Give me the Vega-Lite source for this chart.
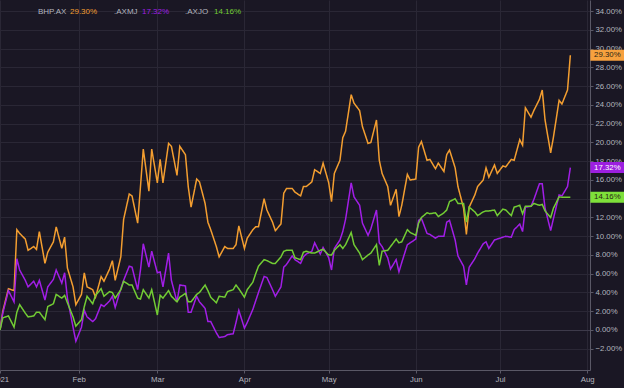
{
  "$schema": "https://vega.github.io/schema/vega-lite/v6.json",
  "width": 590,
  "height": 370,
  "autosize": {"type": "none"},
  "padding": {"left": 0, "top": 0, "right": 34, "bottom": 18},
  "background": "#1a1724",
  "config": {
    "view": {"stroke": null},
    "font": "Liberation Sans",
    "axis": {
      "gridWidth": 1,
      "domainColor": "#5a5866",
      "tickColor": "#5a5866",
      "tickSize": 3,
      "labelColor": "#b2b5be",
      "labelFontSize": 7.8,
      "labelOverlap": false,
      "title": null
    },
    "legend": {
      "labelFontSize": 8,
      "symbolOpacity": 0,
      "symbolSize": 0,
      "symbolStrokeWidth": 0,
      "labelOffset": 0,
      "padding": 0,
      "title": null
    }
  },
  "data": {"name": "series"},
  "transform": [
    {"fold": ["BHP", "AXMJ", "AXJO"], "as": ["series", "pct"]},
    {"calculate": "datum.series == 'BHP' ? 'BHP.AX' : '.' + datum.series", "as": "name"}
  ],
  "encoding": {
    "x": {
      "field": "d",
      "type": "temporal",
      "scale": {"type": "utc", "domain": [{"year": 2021, "month": 1, "date": 4, "utc": true}, {"year": 2021, "month": 8, "date": 2, "utc": true}], "nice": false},
      "axis": {
        "orient": "bottom",
        "grid": true,
        "gridColor": "#2a2735",
        "values": [
          {"year": 2021, "month": 1, "date": 4, "utc": true},
          {"year": 2021, "month": 2, "date": 1, "utc": true},
          {"year": 2021, "month": 3, "date": 1, "utc": true},
          {"year": 2021, "month": 4, "date": 1, "utc": true},
          {"year": 2021, "month": 5, "date": 1, "utc": true},
          {"year": 2021, "month": 6, "date": 1, "utc": true},
          {"year": 2021, "month": 7, "date": 1, "utc": true},
          {"year": 2021, "month": 8, "date": 1, "utc": true}
        ],
        "labelExpr": "utcmonth(datum.value) == 0 ? '2021' : utcFormat(datum.value, '%b')",
        "labelPadding": 2,
        "labelFlush": false,
        "labelOverlap": false
      }
    },
    "y": {
      "field": "pct",
      "type": "quantitative",
      "scale": {"domain": [-4.267, 35.2], "nice": false, "zero": false},
      "axis": {
        "orient": "right",
        "grid": true,
        "gridColor": {"condition": {"test": "datum.value == 0", "value": "#3d3a4a"}, "value": "#2a2735"},
        "values": [-2, 0, 2, 4, 6, 8, 10, 12, 14, 16, 18, 20, 22, 24, 26, 28, 30, 32, 34],
        "labelExpr": "format(datum.value, '.2f') + '%'",
        "labelPadding": 2,
        "labelFlush": false,
        "labelOverlap": false
      }
    }
  },
  "layer": [
    {
      "mark": {"type": "line", "strokeWidth": 1.5, "interpolate": "linear"},
      "encoding": {
        "stroke": {
          "field": "series",
          "type": "nominal",
          "scale": {"domain": ["BHP", "AXMJ", "AXJO"], "range": ["#f39e30", "#a11ee6", "#72cc34"]},
          "legend": {
            "orient": "none",
            "legendX": 62,
            "legendY": 8,
            "direction": "horizontal",
            "columnPadding": 36,
            "labelExpr": "datum.label == 'BHP' ? '29.30%' : datum.label == 'AXMJ' ? '17.32%' : '14.16%'",
            "encode": {"labels": {"update": {"fill": {"scale": "stroke", "field": "value"}}}}
          }
        },
        "strokeDash": {
          "field": "name",
          "type": "nominal",
          "scale": {"domain": ["BHP.AX", ".AXMJ", ".AXJO"], "range": [[1, 0], [1, 0], [1, 0]]},
          "legend": {
            "orient": "none",
            "legendX": 30,
            "legendY": 8,
            "direction": "horizontal",
            "columnPadding": 39,
            "labelColor": "#b2b5be"
          }
        }
      }
    },
    {
      "transform": [{"filter": "+toDate(datum.d) == +toDate('2021-07-26')"}],
      "mark": {"type": "point", "filled": true, "opacity": 1, "strokeWidth": 0, "size": 1156, "xOffset": 37,
               "shape": "M-1,-0.3235L1,-0.3235L1,0.3235L-1,0.3235Z"},
      "encoding": {
        "fill": {
          "field": "series",
          "type": "nominal",
          "scale": {"domain": ["BHP", "AXMJ", "AXJO"], "range": ["#f7a13e", "#9c1fe0", "#7ee03a"]},
          "legend": null
        }
      }
    },
    {
      "transform": [
        {"filter": "+toDate(datum.d) == +toDate('2021-07-26')"},
        {"calculate": "format(datum.pct, '.2f') + '%'", "as": "label"}
      ],
      "mark": {"type": "text", "dx": 37, "fontSize": 7.8, "align": "center", "baseline": "middle"},
      "encoding": {
        "text": {"field": "label"},
        "color": {"condition": {"test": "datum.series == 'AXMJ'", "value": "#ffffff"}, "value": "#2a1f14"}
      }
    }
  ],
  "datasets": {
    "series": [
      {"d": "2021-01-04", "BHP": 0, "AXMJ": 0, "AXJO": 0},
      {"d": "2021-01-05", "BHP": 2.0, "AXMJ": 1.8, "AXJO": 1.3},
      {"d": "2021-01-07", "BHP": 4.4, "AXMJ": 4.2, "AXJO": 1.5},
      {"d": "2021-01-09", "BHP": 4.2, "AXMJ": 3.0, "AXJO": 0.3},
      {"d": "2021-01-10", "BHP": 10.7, "AXMJ": 7.6, "AXJO": 1.9},
      {"d": "2021-01-11", "BHP": 10.3, "AXMJ": 6.4, "AXJO": 2.7},
      {"d": "2021-01-13", "BHP": 9.7, "AXMJ": 5.3, "AXJO": 1.8},
      {"d": "2021-01-14", "BHP": 8.5, "AXMJ": 4.6, "AXJO": 1.4},
      {"d": "2021-01-16", "BHP": 8.9, "AXMJ": 5.2, "AXJO": 1.5},
      {"d": "2021-01-17", "BHP": 8.6, "AXMJ": 4.6, "AXJO": 1.9},
      {"d": "2021-01-18", "BHP": 10.5, "AXMJ": 5.3, "AXJO": 1.9},
      {"d": "2021-01-20", "BHP": 7.1, "AXMJ": 3.2, "AXJO": 1.1},
      {"d": "2021-01-21", "BHP": 8.3, "AXMJ": 4.6, "AXJO": 2.5},
      {"d": "2021-01-23", "BHP": 9.4, "AXMJ": 5.4, "AXJO": 2.8},
      {"d": "2021-01-24", "BHP": 11.0, "AXMJ": 6.4, "AXJO": 3.8},
      {"d": "2021-01-26", "BHP": 8.7, "AXMJ": 5.0, "AXJO": 3.4},
      {"d": "2021-01-27", "BHP": 9.9, "AXMJ": 6.1, "AXJO": 3.7},
      {"d": "2021-01-28", "BHP": 6.6, "AXMJ": 3.4, "AXJO": 2.9},
      {"d": "2021-01-30", "BHP": 4.6, "AXMJ": 0.3, "AXJO": 1.4},
      {"d": "2021-01-31", "BHP": 2.7, "AXMJ": -1.2, "AXJO": 0.4},
      {"d": "2021-02-02", "BHP": 3.8, "AXMJ": 0.3, "AXJO": 1.1},
      {"d": "2021-02-03", "BHP": 6.1, "AXMJ": 2.1, "AXJO": 2.5},
      {"d": "2021-02-04", "BHP": 4.6, "AXMJ": 1.4, "AXJO": 3.6},
      {"d": "2021-02-06", "BHP": 4.3, "AXMJ": 0.9, "AXJO": 2.8},
      {"d": "2021-02-07", "BHP": 3.5, "AXMJ": 1.2, "AXJO": 3.7},
      {"d": "2021-02-09", "BHP": 5.7, "AXMJ": 2.7, "AXJO": 4.4},
      {"d": "2021-02-10", "BHP": 5.2, "AXMJ": 2.5, "AXJO": 3.6},
      {"d": "2021-02-12", "BHP": 6.5, "AXMJ": 3.1, "AXJO": 4.1},
      {"d": "2021-02-13", "BHP": 7.4, "AXMJ": 3.6, "AXJO": 4.0},
      {"d": "2021-02-14", "BHP": 5.3, "AXMJ": 2.4, "AXJO": 3.4},
      {"d": "2021-02-16", "BHP": 7.8, "AXMJ": 4.4, "AXJO": 4.3},
      {"d": "2021-02-17", "BHP": 11.8, "AXMJ": 5.3, "AXJO": 5.2},
      {"d": "2021-02-19", "BHP": 14.5, "AXMJ": 6.8, "AXJO": 4.8},
      {"d": "2021-02-20", "BHP": 14.3, "AXMJ": 6.7, "AXJO": 4.8},
      {"d": "2021-02-22", "BHP": 11.4, "AXMJ": 4.3, "AXJO": 3.4},
      {"d": "2021-02-23", "BHP": 15.3, "AXMJ": 6.4, "AXJO": 3.3},
      {"d": "2021-02-24", "BHP": 19.3, "AXMJ": 9.2, "AXJO": 4.3},
      {"d": "2021-02-26", "BHP": 14.8, "AXMJ": 6.7, "AXJO": 3.4},
      {"d": "2021-02-27", "BHP": 19.3, "AXMJ": 8.4, "AXJO": 4.3},
      {"d": "2021-03-01", "BHP": 15.7, "AXMJ": 6.1, "AXJO": 1.6},
      {"d": "2021-03-02", "BHP": 18.2, "AXMJ": 6.2, "AXJO": 3.7},
      {"d": "2021-03-03", "BHP": 15.7, "AXMJ": 4.6, "AXJO": 3.4},
      {"d": "2021-03-05", "BHP": 19.9, "AXMJ": 8.2, "AXJO": 4.2},
      {"d": "2021-03-06", "BHP": 19.6, "AXMJ": 5.3, "AXJO": 3.6},
      {"d": "2021-03-08", "BHP": 16.5, "AXMJ": 3.0, "AXJO": 3.0},
      {"d": "2021-03-09", "BHP": 19.6, "AXMJ": 4.8, "AXJO": 3.5},
      {"d": "2021-03-11", "BHP": 18.7, "AXMJ": 4.7, "AXJO": 3.9},
      {"d": "2021-03-12", "BHP": 15.3, "AXMJ": 1.9, "AXJO": 3.0},
      {"d": "2021-03-13", "BHP": 13.1, "AXMJ": 1.9, "AXJO": 3.0},
      {"d": "2021-03-15", "BHP": 16.1, "AXMJ": 3.6, "AXJO": 3.8},
      {"d": "2021-03-16", "BHP": 15.8, "AXMJ": 3.0, "AXJO": 4.0},
      {"d": "2021-03-18", "BHP": 13.5, "AXMJ": 2.3, "AXJO": 4.8},
      {"d": "2021-03-19", "BHP": 11.5, "AXMJ": 0.9, "AXJO": 4.2},
      {"d": "2021-03-20", "BHP": 10.7, "AXMJ": 0.9, "AXJO": 3.5},
      {"d": "2021-03-22", "BHP": 8.9, "AXMJ": -0.3, "AXJO": 2.9},
      {"d": "2021-03-23", "BHP": 7.8, "AXMJ": -0.8, "AXJO": 3.6},
      {"d": "2021-03-25", "BHP": 8.9, "AXMJ": -0.7, "AXJO": 3.5},
      {"d": "2021-03-26", "BHP": 8.7, "AXMJ": -0.5, "AXJO": 4.1},
      {"d": "2021-03-28", "BHP": 8.7, "AXMJ": -0.4, "AXJO": 4.3},
      {"d": "2021-03-29", "BHP": 9.1, "AXMJ": 0.8, "AXJO": 4.8},
      {"d": "2021-03-30", "BHP": 11.1, "AXMJ": 2.1, "AXJO": 4.4},
      {"d": "2021-04-01", "BHP": 8.7, "AXMJ": 0.2, "AXJO": 3.5},
      {"d": "2021-04-02", "BHP": 9.8, "AXMJ": 0.8, "AXJO": 4.3},
      {"d": "2021-04-04", "BHP": 10.7, "AXMJ": 2.2, "AXJO": 5.1},
      {"d": "2021-04-05", "BHP": 11.0, "AXMJ": 3.1, "AXJO": 6.0},
      {"d": "2021-04-06", "BHP": 11.0, "AXMJ": 4.0, "AXJO": 6.8},
      {"d": "2021-04-08", "BHP": 14.0, "AXMJ": 5.7, "AXJO": 7.5},
      {"d": "2021-04-09", "BHP": 12.8, "AXMJ": 5.6, "AXJO": 7.4},
      {"d": "2021-04-11", "BHP": 11.5, "AXMJ": 4.3, "AXJO": 7.1},
      {"d": "2021-04-12", "BHP": 10.6, "AXMJ": 3.6, "AXJO": 7.1},
      {"d": "2021-04-14", "BHP": 11.3, "AXMJ": 4.6, "AXJO": 7.8},
      {"d": "2021-04-15", "BHP": 14.6, "AXMJ": 6.7, "AXJO": 8.4},
      {"d": "2021-04-16", "BHP": 15.1, "AXMJ": 7.0, "AXJO": 8.5},
      {"d": "2021-04-18", "BHP": 15.1, "AXMJ": 7.9, "AXJO": 8.5},
      {"d": "2021-04-19", "BHP": 14.7, "AXMJ": 7.5, "AXJO": 7.7},
      {"d": "2021-04-21", "BHP": 14.3, "AXMJ": 7.1, "AXJO": 7.5},
      {"d": "2021-04-22", "BHP": 15.3, "AXMJ": 7.8, "AXJO": 8.3},
      {"d": "2021-04-23", "BHP": 15.3, "AXMJ": 8.1, "AXJO": 8.4},
      {"d": "2021-04-25", "BHP": 15.8, "AXMJ": 8.4, "AXJO": 8.2},
      {"d": "2021-04-26", "BHP": 17.1, "AXMJ": 9.3, "AXJO": 8.2},
      {"d": "2021-04-28", "BHP": 16.7, "AXMJ": 8.1, "AXJO": 8.5},
      {"d": "2021-04-29", "BHP": 17.8, "AXMJ": 8.8, "AXJO": 8.6},
      {"d": "2021-05-01", "BHP": 15.7, "AXMJ": 7.7, "AXJO": 8.0},
      {"d": "2021-05-02", "BHP": 13.7, "AXMJ": 6.4, "AXJO": 8.0},
      {"d": "2021-05-03", "BHP": 16.7, "AXMJ": 8.7, "AXJO": 8.5},
      {"d": "2021-05-05", "BHP": 18.1, "AXMJ": 9.6, "AXJO": 9.1},
      {"d": "2021-05-06", "BHP": 20.5, "AXMJ": 10.5, "AXJO": 8.7},
      {"d": "2021-05-07", "BHP": 21.2, "AXMJ": 11.8, "AXJO": 9.1},
      {"d": "2021-05-09", "BHP": 25.1, "AXMJ": 15.7, "AXJO": 10.4},
      {"d": "2021-05-10", "BHP": 24.2, "AXMJ": 14.2, "AXJO": 9.1},
      {"d": "2021-05-12", "BHP": 23.4, "AXMJ": 13.3, "AXJO": 8.2},
      {"d": "2021-05-13", "BHP": 21.7, "AXMJ": 11.4, "AXJO": 7.5},
      {"d": "2021-05-15", "BHP": 19.9, "AXMJ": 10.1, "AXJO": 8.0},
      {"d": "2021-05-16", "BHP": 20.0, "AXMJ": 10.8, "AXJO": 8.2},
      {"d": "2021-05-18", "BHP": 22.4, "AXMJ": 12.8, "AXJO": 9.1},
      {"d": "2021-05-19", "BHP": 18.1, "AXMJ": 9.3, "AXJO": 6.9},
      {"d": "2021-05-20", "BHP": 16.7, "AXMJ": 8.9, "AXJO": 8.4},
      {"d": "2021-05-22", "BHP": 15.3, "AXMJ": 7.7, "AXJO": 8.5},
      {"d": "2021-05-23", "BHP": 13.3, "AXMJ": 6.5, "AXJO": 8.9},
      {"d": "2021-05-25", "BHP": 15.0, "AXMJ": 7.5, "AXJO": 9.7},
      {"d": "2021-05-26", "BHP": 12.1, "AXMJ": 6.2, "AXJO": 9.3},
      {"d": "2021-05-27", "BHP": 13.3, "AXMJ": 7.2, "AXJO": 9.4},
      {"d": "2021-05-29", "BHP": 16.6, "AXMJ": 9.1, "AXJO": 10.7},
      {"d": "2021-05-30", "BHP": 16.0, "AXMJ": 9.3, "AXJO": 10.4},
      {"d": "2021-06-01", "BHP": 16.1, "AXMJ": 9.7, "AXJO": 10.1},
      {"d": "2021-06-02", "BHP": 19.5, "AXMJ": 11.7, "AXJO": 11.4},
      {"d": "2021-06-03", "BHP": 20.1, "AXMJ": 11.9, "AXJO": 12.0},
      {"d": "2021-06-05", "BHP": 18.1, "AXMJ": 10.3, "AXJO": 12.5},
      {"d": "2021-06-06", "BHP": 18.2, "AXMJ": 10.2, "AXJO": 12.4},
      {"d": "2021-06-08", "BHP": 17.2, "AXMJ": 9.8, "AXJO": 12.5},
      {"d": "2021-06-09", "BHP": 17.8, "AXMJ": 10.0, "AXJO": 12.1},
      {"d": "2021-06-11", "BHP": 16.9, "AXMJ": 10.0, "AXJO": 12.5},
      {"d": "2021-06-12", "BHP": 18.7, "AXMJ": 11.5, "AXJO": 12.8},
      {"d": "2021-06-13", "BHP": 19.2, "AXMJ": 11.7, "AXJO": 13.7},
      {"d": "2021-06-15", "BHP": 17.3, "AXMJ": 9.6, "AXJO": 14.0},
      {"d": "2021-06-16", "BHP": 15.3, "AXMJ": 7.9, "AXJO": 13.5},
      {"d": "2021-06-18", "BHP": 13.0, "AXMJ": 6.8, "AXJO": 13.5},
      {"d": "2021-06-19", "BHP": 10.2, "AXMJ": 4.8, "AXJO": 11.5},
      {"d": "2021-06-20", "BHP": 13.1, "AXMJ": 6.7, "AXJO": 13.1},
      {"d": "2021-06-22", "BHP": 14.4, "AXMJ": 7.6, "AXJO": 12.6},
      {"d": "2021-06-23", "BHP": 15.3, "AXMJ": 8.2, "AXJO": 12.2},
      {"d": "2021-06-25", "BHP": 16.0, "AXMJ": 9.2, "AXJO": 12.6},
      {"d": "2021-06-26", "BHP": 17.3, "AXMJ": 9.4, "AXJO": 12.7},
      {"d": "2021-06-27", "BHP": 16.3, "AXMJ": 8.7, "AXJO": 12.7},
      {"d": "2021-06-29", "BHP": 17.6, "AXMJ": 9.6, "AXJO": 12.8},
      {"d": "2021-06-30", "BHP": 16.7, "AXMJ": 9.7, "AXJO": 12.2},
      {"d": "2021-07-02", "BHP": 17.5, "AXMJ": 9.9, "AXJO": 12.9},
      {"d": "2021-07-03", "BHP": 17.4, "AXMJ": 10.0, "AXJO": 12.8},
      {"d": "2021-07-05", "BHP": 18.2, "AXMJ": 9.9, "AXJO": 12.2},
      {"d": "2021-07-06", "BHP": 18.1, "AXMJ": 10.7, "AXJO": 13.1},
      {"d": "2021-07-08", "BHP": 20.3, "AXMJ": 11.3, "AXJO": 13.3},
      {"d": "2021-07-09", "BHP": 19.7, "AXMJ": 10.5, "AXJO": 12.4},
      {"d": "2021-07-10", "BHP": 23.7, "AXMJ": 13.1, "AXJO": 13.2},
      {"d": "2021-07-12", "BHP": 22.7, "AXMJ": 13.2, "AXJO": 13.2},
      {"d": "2021-07-13", "BHP": 23.4, "AXMJ": 13.9, "AXJO": 13.5},
      {"d": "2021-07-15", "BHP": 24.6, "AXMJ": 15.6, "AXJO": 13.3},
      {"d": "2021-07-16", "BHP": 25.6, "AXMJ": 15.6, "AXJO": 13.4},
      {"d": "2021-07-17", "BHP": 22.4, "AXMJ": 13.0, "AXJO": 12.7},
      {"d": "2021-07-19", "BHP": 18.9, "AXMJ": 10.6, "AXJO": 12.0},
      {"d": "2021-07-20", "BHP": 20.6, "AXMJ": 11.9, "AXJO": 13.0},
      {"d": "2021-07-22", "BHP": 24.5, "AXMJ": 14.4, "AXJO": 14.2},
      {"d": "2021-07-23", "BHP": 24.1, "AXMJ": 14.3, "AXJO": 14.16},
      {"d": "2021-07-25", "BHP": 25.6, "AXMJ": 15.3, "AXJO": 14.16},
      {"d": "2021-07-26", "BHP": 29.30, "AXMJ": 17.32, "AXJO": 14.16}
    ]
  }
}
